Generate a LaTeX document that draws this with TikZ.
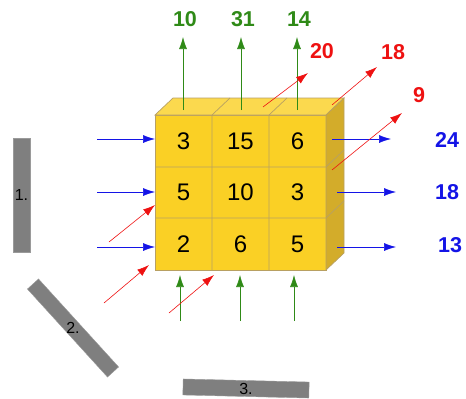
\documentclass[tikz,border=0pt]{standalone}
\usepackage{fontspec}
\setmainfont{Liberation Sans}
\usetikzlibrary{arrows.meta}

\begin{document}
\begin{tikzpicture}[x=1pt, y=-1pt,
    cellNum/.style={font=\fontsize{24}{26}\selectfont, text=black, inner sep=0pt},
    sumLabel/.style={font=\fontsize{21.5}{24}\selectfont\bfseries, inner sep=0pt},
    ray/.style={line width=0.6pt, -{Latex[length=12pt,width=8pt]}},
    bar/.style={fill=barColour, draw=barEdge, line width=0.4pt, inner sep=0pt},
    barLabel/.style={font=\fontsize{16}{18}\selectfont, inner sep=0pt}]
    \def\depthX{18}
    \def\depthY{17}

    \definecolor{frontColour}{HTML}{FAD025}
    \definecolor{topColour}{HTML}{FBD94E}
    \definecolor{sideColour}{HTML}{D3AC2A}
    \definecolor{edgeColour}{HTML}{B8A062}
    \definecolor{sumGreen}{HTML}{2F8A17}
    \definecolor{sumRed}{HTML}{EE1111}
    \definecolor{sumBlue}{HTML}{1414E6}
    \definecolor{barColour}{HTML}{7F7F7F}
    \definecolor{barEdge}{HTML}{9A9A9A}

    \useasboundingbox (0,0) rectangle (466,399);

    % Draw cube faces
    \filldraw[fill=frontColour, draw=edgeColour, line width=0.7pt] (155,115) rectangle (326,270);
    \filldraw[fill=topColour, draw=edgeColour, line width=0.7pt]
        (155,115) -- ++(\depthX,-\depthY) -- (344,98) -- (326,115) -- cycle;
    \filldraw[fill=sideColour, draw=edgeColour, line width=0.7pt]
        (326,115) -- ++(\depthX,-\depthY) -- (344,253) -- (326,270) -- cycle;

    % Draw cell dividers
    \foreach \x in {212,269}
        \draw[edgeColour, line width=0.7pt] (\x,270) -- (\x,115) -- ++(\depthX,-\depthY);
    \foreach \y in {167,218}
        \draw[edgeColour, line width=0.7pt] (155,\y) -- (326,\y) -- ++(\depthX,-\depthY);

    % Cell values
    \foreach \v [count=\i] in {3,15,6,5,10,3,2,6,5} {
        \pgfmathtruncatemacro{\row}{int((\i-1)/3)}
        \pgfmathtruncatemacro{\col}{mod(\i-1,3)}
        \node[cellNum] (cell\i) at (183.5+57*\col, 141+51.5*\row) {\v};
    }

    % Column sums (top) and bottom rays
    \foreach \x/\v/\n in {183/10/a,241/31/b,297/14/c} {
        \coordinate (topStart\n) at (\x,110);
        \coordinate (topTip\n) at (\x,37);
        \node[sumLabel, text=sumGreen] (colSum\n) at (\x+2,19.5) {\v};
        \draw[ray, sumGreen] (topStart\n) -- (topTip\n);
    }
    \foreach \x/\n in {180/a,240/b,294/c} {
        \coordinate (botStart\n) at (\x,321);
        \coordinate (botTip\n) at (\x,275);
        \draw[ray, sumGreen] (botStart\n) -- (botTip\n);
    }

    % Row sums (right) and left rays
    \foreach \y/\v/\n/\lx in {139/24/a,192/18/b,247/13/c} {
        \coordinate (leftStart\n) at (97,\y);
        \coordinate (leftTip\n) at (155,\y);
        \draw[ray, sumBlue] (leftStart\n) -- (leftTip\n);
    }
    \foreach \y/\ly/\v/\n/\lx/\sx in {139/140/24/a/447/332,192/192/18/b/447/337,247/245/13/c/450/337} {
        \coordinate (rightStart\n) at (\sx,\y);
        \coordinate (rightTip\n) at (\sx+59,\y);
        \node[sumLabel, text=sumBlue] (rowSum\n) at (\lx,\ly) {\v};
        \draw[ray, sumBlue] (rightStart\n) -- (rightTip\n);
    }

    % Diagonal sums (red)
    \coordinate (diagInA) at (109,242);  \coordinate (diagInTipA) at (155,205);
    \coordinate (diagInB) at (104,303);  \coordinate (diagInTipB) at (149,265);
    \coordinate (diagInC) at (169,313);  \coordinate (diagInTipC) at (214,275);
    \draw[ray, sumRed] (diagInA) -- (diagInTipA);
    \draw[ray, sumRed] (diagInB) -- (diagInTipB);
    \draw[ray, sumRed] (diagInC) -- (diagInTipC);

    \coordinate (diagOutA) at (263,107); \coordinate (diagOutTipA) at (308,73);
    \coordinate (diagOutB) at (332,105); \coordinate (diagOutTipB) at (377,67);
    \coordinate (diagOutC) at (332,170); \coordinate (diagOutTipC) at (402,113);
    \draw[ray, sumRed] (diagOutA) -- (diagOutTipA);
    \draw[ray, sumRed] (diagOutB) -- (diagOutTipB);
    \draw[ray, sumRed] (diagOutC) -- (diagOutTipC);

    \node[sumLabel, text=sumRed] (diagSumA) at (322,51) {20};
    \node[sumLabel, text=sumRed] (diagSumB) at (393,52) {18};
    \node[sumLabel, text=sumRed] (diagSumC) at (419,95) {9};

    % Viewing planes
    \node[bar, minimum width=17pt, minimum height=114pt] (barOne) at (21.5,195) {};
    \node[barLabel] at (barOne) {1.};
    \node[bar, minimum width=119pt, minimum height=15pt, rotate=-47.7] (barTwo) at (73,328) {};
    \node[barLabel] at (barTwo) {2.};
    \node[bar, minimum width=126pt, minimum height=16pt, rotate=-1.4] (barThree) at (246,388.5) {};
    \node[barLabel] at (barThree) {3.};

\end{tikzpicture}
\end{document}
